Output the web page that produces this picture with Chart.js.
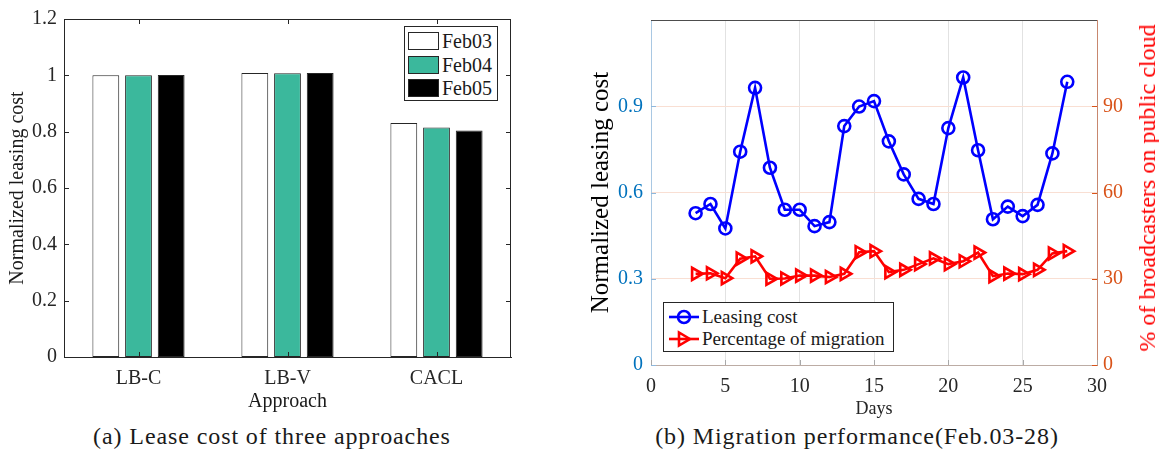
<!DOCTYPE html>
<html>
<head>
<meta charset="utf-8">
<script src="https://cdn.jsdelivr.net/npm/chart.js@4.4.0/dist/chart.umd.min.js"></script>
<style>
  body { margin: 0; background: #fff; width: 1159px; height: 454px; position: relative; overflow: hidden;
         font-family: 'Liberation Serif', serif; color: #262626; }
  .wrap { position: absolute; }
  .caption { position: absolute; top: 423px; width: 460px; text-align: center; font-size: 24px;
             letter-spacing: 0.9px; white-space: nowrap; color: #1a1a1a; }
  .legend { position: absolute; box-sizing: border-box; border: 1px solid #262626; background: #fff; }
  .legend .row { position: absolute; left: 0; right: 0; height: 22px; }
  .legend .sw { position: absolute; box-sizing: border-box; border: 1px solid #262626; }
  .legend .txt { position: absolute; line-height: 22px; white-space: nowrap; color: #1a1a1a; }
  .rtitle { position: absolute; left: 1147px; top: 188px; transform: translate(-50%, -50%) rotate(-90deg);
            font-size: 24px; line-height: 24px; color: #ff0000; white-space: nowrap; }
</style>
</head>
<body>
<div class="wrap" style="left:0;top:0;width:530px;height:420px"><canvas id="costChart"></canvas></div>
<div class="wrap" style="left:580px;top:0;width:579px;height:420px"><canvas id="migChart"></canvas></div>
<div class="legend" id="legA" style="left:404px;top:26px;width:94px;height:75px"></div>
<div class="legend" id="legB" style="left:663px;top:302px;width:231px;height:50px"></div>
<div class="rtitle" id="rTitle"></div>
<div class="caption" style="left:42px">(a) Lease cost of three approaches</div>
<div class="caption" style="left:627px">(b) Migration performance(Feb.03-28)</div>
<script>
// (a) lease cost per approach
const approaches = ['LB-C', 'LB-V', 'CACL'];
const feb03 = [1.000, 1.008, 0.831];
const feb04 = [1.000, 1.007, 0.815];
const feb05 = [1.001, 1.008, 0.804];

// (b) daily migration performance
const days = [3, 4, 5, 6, 7, 8, 9, 10, 11, 12, 13, 14, 15, 16, 17, 18, 19, 20, 21, 22, 23, 24, 25, 26, 27, 28];
const leasingCost = [0.528, 0.560, 0.475, 0.742, 0.964, 0.686, 0.540, 0.540, 0.483, 0.497, 0.831, 0.899, 0.918,
                     0.778, 0.663, 0.578, 0.560, 0.824, 1.000, 0.747, 0.507, 0.551, 0.518, 0.557, 0.736, 0.985];
const migration = [31.7, 31.9, 30.2, 37.0, 37.8, 30.0, 30.1, 31.1, 31.1, 30.6, 31.7, 39.2, 39.6,
                   32.3, 33.1, 35.1, 37.1, 35.1, 36.1, 39.1, 30.9, 31.8, 31.6, 33.1, 38.8, 39.6];
const rightAxisTitle = '% of broadcasters on public cloud';

Chart.defaults.font.family = "'Liberation Serif', serif";
Chart.defaults.color = '#262626';

// box around the plot + ticks pointing inward (matlab look)
const innerTicks = {
  id: 'innerTicks',
  afterDraw(chart, args, opts) {
    const { ctx, chartArea: a } = chart;
    ctx.save();
    ctx.lineWidth = 1;
    (opts.marks || []).forEach(m => {
      const scale = chart.scales[m.axis];
      ctx.strokeStyle = m.color;
      scale.ticks.forEach((t, i) => {
        const p = Math.round(scale.getPixelForTick(i)) + 0.5;
        ctx.beginPath();
        if (m.side === 'left') { ctx.moveTo(a.left, p); ctx.lineTo(a.left + m.len, p); }
        if (m.side === 'right') { ctx.moveTo(a.right, p); ctx.lineTo(a.right - m.len, p); }
        if (m.side === 'bottom') { ctx.moveTo(p, a.bottom); ctx.lineTo(p, a.bottom - m.len); }
        if (m.side === 'top') { ctx.moveTo(p, a.top); ctx.lineTo(p, a.top + m.len); }
        ctx.stroke();
      });
    });
    (opts.edges || []).forEach(e => {
      ctx.strokeStyle = e.color;
      ctx.beginPath();
      if (e.side === 'top') { ctx.moveTo(a.left, a.top + 0.5); ctx.lineTo(a.right, a.top + 0.5); }
      if (e.side === 'right') { ctx.moveTo(a.right - 0.5, a.top); ctx.lineTo(a.right - 0.5, a.bottom); }
      ctx.stroke();
    });
    ctx.restore();
  }
};

const tickFont = { size: 20 };

new Chart(document.getElementById('costChart'), {
  type: 'bar',
  data: {
    labels: approaches,
    datasets: [
      { label: 'Feb03', data: feb03, backgroundColor: '#ffffff' },
      { label: 'Feb04', data: feb04, backgroundColor: '#3bb89c' },
      { label: 'Feb05', data: feb05, backgroundColor: '#000000' }
    ].map(d => Object.assign(d, { borderColor: '#262626', borderWidth: 1, borderSkipped: false,
                                   categoryPercentage: 0.658, barPercentage: 0.82 }))
  },
  options: {
    responsive: true,
    maintainAspectRatio: false,
    animation: false,
    layout: { padding: { top: 12, right: 19 } },
    plugins: {
      legend: { display: false },
      tooltip: { enabled: false },
      innerTicks: {
        marks: [
          { axis: 'y', side: 'left', len: 5, color: '#262626' },
          { axis: 'y', side: 'right', len: 5, color: '#262626' },
          { axis: 'x', side: 'bottom', len: 5, color: '#262626' },
          { axis: 'x', side: 'top', len: 5, color: '#262626' }
        ],
        edges: [ { side: 'top', color: '#262626' }, { side: 'right', color: '#262626' } ]
      }
    },
    scales: {
      x: {
        grid: { display: false, drawTicks: false },
        border: { display: true, color: '#262626' },
        ticks: { font: tickFont, padding: 10, color: '#262626' },
        title: { display: true, text: 'Approach', font: { size: 20 }, color: '#1a1a1a', padding: { bottom: 6 } },
        afterFit(s) { s.height = 63; }
      },
      y: {
        min: 0, max: 1.2,
        grid: { display: false, drawTicks: false },
        border: { display: true, color: '#262626' },
        ticks: { stepSize: 0.2, font: tickFont, padding: 7, color: '#262626',
                 callback: v => String(+v.toFixed(1)) },
        title: { display: true, text: 'Normalized leasing cost', font: { size: 20 }, color: '#1a1a1a', padding: { top: 6 } },
        afterFit(s) { s.width = 64; }
      }
    }
  },
  plugins: [innerTicks]
});

new Chart(document.getElementById('migChart'), {
  type: 'line',
  data: {
    datasets: [
      {
        label: 'Leasing cost', yAxisID: 'y',
        data: days.map((d, i) => ({ x: d, y: leasingCost[i] })),
        borderColor: '#0000ff', borderWidth: 2.6,
        pointStyle: 'circle', pointRadius: 6, pointBorderWidth: 2.6,
        pointBorderColor: '#0000ff', pointBackgroundColor: 'rgba(255,255,255,0)'
      },
      {
        label: 'Percentage of migration', yAxisID: 'y1',
        data: days.map((d, i) => ({ x: d, y: migration[i] })),
        borderColor: '#ff0000', borderWidth: 2.6,
        pointStyle: 'triangle', pointRotation: 90, pointRadius: 7, pointBorderWidth: 2.6,
        pointBorderColor: '#ff0000', pointBackgroundColor: 'rgba(255,255,255,0)'
      }
    ]
  },
  options: {
    responsive: true,
    maintainAspectRatio: false,
    animation: false,
    layout: { padding: { top: 12 } },
    plugins: {
      legend: { display: false },
      tooltip: { enabled: false },
      innerTicks: {
        marks: [
          { axis: 'y1', side: 'right', len: 5, color: '#d95319' },
          { axis: 'y', side: 'left', len: 5, color: '#8fb8dc' },
          { axis: 'x', side: 'bottom', len: 5, color: '#a9a9a9' }
        ],
        edges: [ { side: 'top', color: '#4d4d4d' } ]
      }
    },
    scales: {
      x: {
        type: 'linear', min: 0, max: 30,
        grid: { color: '#e2e2e2', drawTicks: false },
        border: { display: true, color: '#bcaca4' },
        ticks: { stepSize: 5, font: tickFont, padding: 10, color: '#262626' },
        title: { display: true, text: 'Days', font: { size: 18 }, color: '#262626', padding: { bottom: 0 } },
        afterFit(s) { s.height = 55; }
      },
      y: {
        position: 'left', min: 0, max: 1.2,
        grid: { color: '#f9dfd3', drawTicks: false },
        border: { display: true, color: '#a9c8e3' },
        ticks: { stepSize: 0.3, font: tickFont, padding: 8, color: '#0072bd',
                 callback: v => v > 1.15 ? '' : (v === 0 ? '0' : v.toFixed(1)) },
        title: { display: true, text: 'Normalized leasing cost', font: { size: 25 }, color: '#000000', padding: { top: 6 } },
        afterFit(s) { s.width = 71; }
      },
      y1: {
        position: 'right', min: 0, max: 120,
        grid: { display: false, drawTicks: false },
        border: { display: true, color: '#c8876e' },
        ticks: { stepSize: 30, font: tickFont, padding: 6, color: '#d95319',
                 callback: v => v > 115 ? '' : v },
        afterFit(s) { s.width = 62; }
      }
    }
  },
  plugins: [innerTicks]
});

// right axis title reads bottom-to-top like the left one
document.getElementById('rTitle').textContent = rightAxisTitle;

// legend (a): filled swatches
const legA = document.getElementById('legA');
[['Feb03', '#ffffff'], ['Feb04', '#3bb89c'], ['Feb05', '#000000']].forEach(([name, col], i) => {
  const row = document.createElement('div');
  row.className = 'row';
  row.style.top = (3 + i * 23.7) + 'px';
  row.innerHTML = '<div class="sw" style="left:3px;top:2px;width:31px;height:18px;background:' + col + '"></div>' +
                  '<div class="txt" style="left:37px;font-size:20px">' + name + '</div>';
  legA.appendChild(row);
});

// legend (b): line + marker symbols
const legB = document.getElementById('legB');
const symCircle = '<svg width="32" height="22"><line x1="1" y1="11" x2="31" y2="11" stroke="#0000ff" stroke-width="2.6"/>' +
                  '<circle cx="16" cy="11" r="6" fill="none" stroke="#0000ff" stroke-width="2.6"/></svg>';
const symTri = '<svg width="32" height="22"><line x1="1" y1="11" x2="31" y2="11" stroke="#ff0000" stroke-width="2.6"/>' +
               '<polygon points="22,11 11,4.5 11,17.5" fill="none" stroke="#ff0000" stroke-width="2.6" stroke-linejoin="miter"/></svg>';
[['Leasing cost', symCircle], ['Percentage of migration', symTri]].forEach(([name, sym], i) => {
  const row = document.createElement('div');
  row.className = 'row';
  row.style.top = (3 + i * 22) + 'px';
  row.innerHTML = '<div style="position:absolute;left:4px;top:0">' + sym + '</div>' +
                  '<div class="txt" style="left:38px;font-size:19px">' + name + '</div>';
  legB.appendChild(row);
});
</script>
</body>
</html>
